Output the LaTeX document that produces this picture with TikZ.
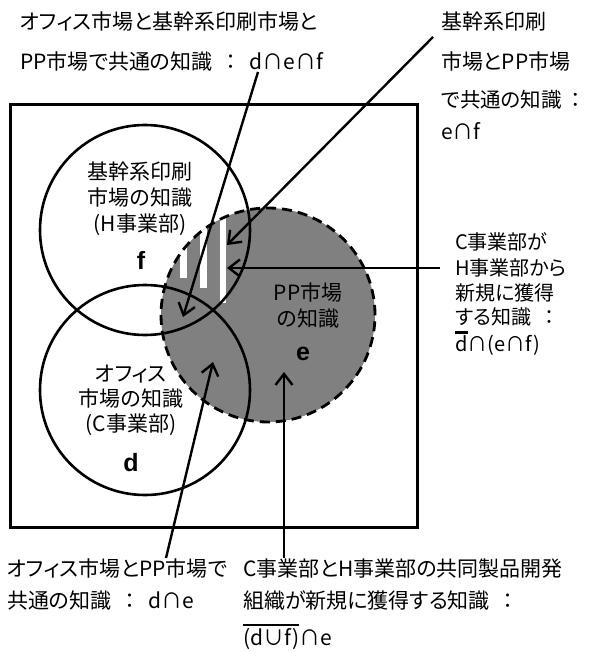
\documentclass[tikz,border=0pt]{standalone}
\usepackage{fontspec}
\setmainfont{Noto Sans CJK JP}[RawFeature=+palt]
\newfontfamily\latb{Liberation Sans}
\usetikzlibrary{arrows.meta}
\definecolor{egray}{HTML}{808080}
\newcommand\ovl[1]{\vbox{\hrule height 2.4pt\kern 1.5pt\hbox{#1}}}
\newcommand\clm{\hspace{13pt}：}
\begin{document}
\begin{tikzpicture}[x=1pt,y=-1pt,
  lbl/.style={inner sep=0pt, anchor=base west, font=\fontsize{21}{21}\selectfont},
  rlbl/.style={inner sep=0pt, anchor=base west, font=\fontsize{20}{20}\selectfont},
  clbl/.style={inner sep=0pt, anchor=base, font=\fontsize{21}{21}\selectfont},
  letter/.style={inner sep=0pt, anchor=base, font=\latb\bfseries\fontsize{25}{25}\selectfont},
  ring/.style={line width=2.6pt},
  arr/.style={line width=2.4pt, -{Straight Barb[length=11pt,width=17pt,line width=2.4pt]}}]
\useasboundingbox (0,0) rectangle (593,652);
% gray circle e
\fill[egray] (268,315) circle[radius=107pt];
\begin{scope}
\clip (268,315) circle[radius=107pt];
\fill[white] (180,150) rectangle (187,278);
\fill[white] (200,150) rectangle (207,288);
\fill[white] (220,150) rectangle (226,303);
\end{scope}
\draw[ring] (145,230) circle[radius=105pt];
\draw[ring] (145,390) circle[radius=105pt];
\draw[line width=2.8pt, dash pattern=on 10pt off 6pt] (268,315) circle[radius=107pt];
\draw[line width=3pt] (10,105) rectangle (417,527);
% circle labels
\node[clbl] (f1) at (140,180) {基幹系印刷};
\node[clbl] (f2) at (140,205) {市場の知識};
\node[clbl] (f3) at (140,231) {(H事業部)};
\node[letter] (fl) at (141,269) {f};
\node[clbl] (d1) at (131,381) {オフィス};
\node[clbl] (d2) at (131,406) {市場の知識};
\node[clbl] (d3) at (131,431) {(C事業部)};
\node[letter] (dl) at (131,471) {d};
\node[clbl] (e1) at (308,300) {PP市場};
\node[clbl] (e2) at (308,326) {の知識};
\node[letter] (el) at (303,360) {e};
% outer labels
\node[lbl] (tl1) at (20,30) {オフィス市場と基幹系印刷市場と};
\node[lbl] (tl2) at (20,70) {PP市場で共通の知識\clm\hspace{14pt}d∩e∩f};
\node[lbl] (tr1) at (441,30) {基幹系印刷};
\node[lbl] (tr2) at (441,70) {市場とPP市場};
\node[lbl, font=\fontsize{20.5}{20.5}\selectfont] (tr3) at (441,108) {で共通の知識\hspace{9pt}：};
\node[lbl] (tr4) at (441,140) {e∩f};
\node[rlbl] (r1) at (455,249) {C事業部が};
\node[rlbl] (r2) at (455,275) {H事業部から};
\node[rlbl] (r3) at (455,300) {新規に獲得};
\node[rlbl] (r4) at (455,324) {する知識\clm};
\node[rlbl] (r5) at (455,351) {\ovl{d}∩(e∩f)};
\node[lbl] (bl1) at (7,576) {オフィス市場とPP市場で};
\node[lbl] (bl2) at (7,608) {共通の知識\clm\hspace{14pt}d∩e};
\node[lbl] (br1) at (243,576) {C事業部とH事業部の共同製品開発};
\node[lbl] (br2) at (243,608) {組織が新規に獲得する知識\clm};
\node[lbl] (br3) at (243,645) {\ovl{(d∪f)}∩e};
% arrows
\coordinate (a1s) at (258,72);
\coordinate (a1e) at (183,317);
\coordinate (a2s) at (433,37);
\coordinate (a2e) at (227,245);
\coordinate (a3s) at (440,268);
\coordinate (a3e) at (227,268);
\coordinate (a4s) at (166,558);
\coordinate (a4e) at (213,362);
\coordinate (a5s) at (284,558);
\coordinate (a5e) at (284,372);
\draw[arr] (a1s) -- (a1e);
\draw[arr] (a2s) -- (a2e);
\draw[arr] (a3s) -- (a3e);
\draw[arr] (a4s) -- (a4e);
\draw[arr] (a5s) -- (a5e);
\end{tikzpicture}
\end{document}
